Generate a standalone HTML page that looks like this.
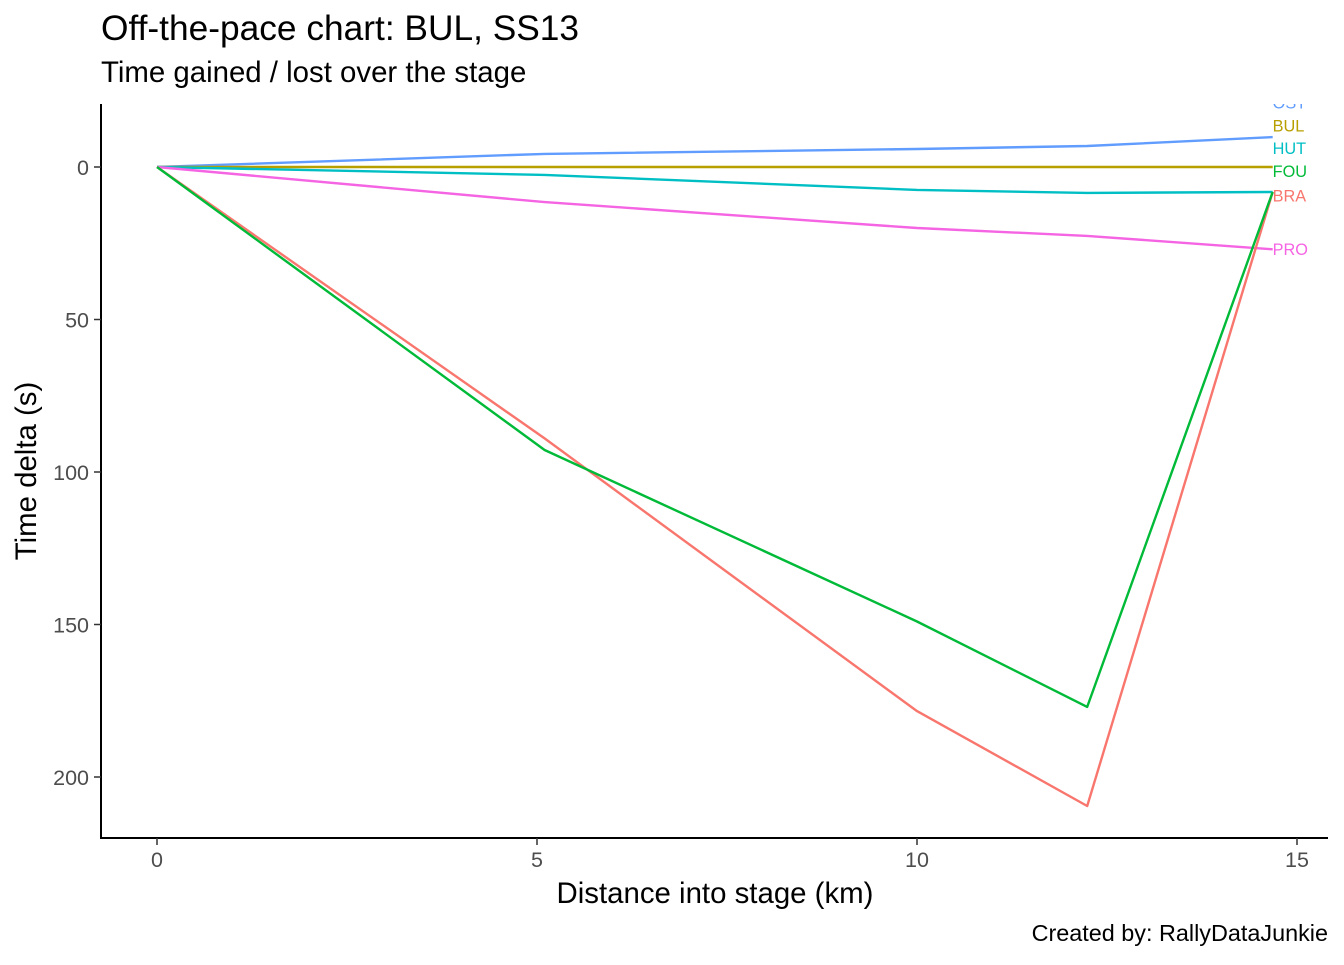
<!DOCTYPE html>
<html><head><meta charset="utf-8"><style>
body{margin:0;background:#fff;font-family:"Liberation Sans",Arial,sans-serif}
svg text{font-family:"Liberation Sans",Arial,sans-serif}
</style></head><body>
<svg id="chart" width="1344" height="960" xmlns="http://www.w3.org/2000/svg">
<rect width="1344" height="960" fill="#fff"/>
<text x="101" y="40" font-size="35.3" fill="#000">Off-the-pace chart: BUL, SS13</text>
<text x="101" y="82" font-size="29.4" fill="#000">Time gained / lost over the stage</text>
<defs><clipPath id="clip"><rect x="101" y="104" width="1243" height="734"/></clipPath></defs>
<g id="plot" clip-path="url(#clip)"></g>
<g id="axes"></g>
<text x="715" y="903" font-size="29.4" text-anchor="middle">Distance into stage (km)</text>
<text transform="translate(36,471) rotate(-90)" font-size="29.4" text-anchor="middle">Time delta (s)</text>
<text x="1328" y="941" font-size="23.4" text-anchor="end">Created by: RallyDataJunkie</text>
</svg>
<script>
const drivers = ["BRA","BUL","FOU","HUT","OST","PRO"];
const colors = ["#F8766D","#B79F00","#00BA38","#00BFC4","#619CFF","#F564E3"];
const distances = [0, 5.1, 10.0, 12.24, 14.68];
const braVals = [0, 89, 178.4, 209.5, 8.2];
const bulVals = [0, 0, 0, 0, 0];
const fouVals = [0, 92.8, 149, 177, 8.2];
const hutVals = [0, 2.6, 7.5, 8.5, 8.2];
const ostVals = [0, -4.3, -5.9, -6.9, -9.8];
const proVals = [0, 11.5, 20, 22.6, 27];
const labelYVals = [9.5, -13.5, 1.5, -6, -21, 27];
const xTicks = [0, 5, 10, 15];
const yTicks = [0, 50, 100, 150, 200];
const series = [braVals, bulVals, fouVals, hutVals, ostVals, proVals];
const X = d => 157 + d * 76;
const Y = v => 167 + v * 3.05;
const NS = "http://www.w3.org/2000/svg";
const plot = document.getElementById("plot"), axes = document.getElementById("axes");
function mk(tag, attrs, parent){const e=document.createElementNS(NS,tag);for(const k in attrs)e.setAttribute(k,attrs[k]);parent.appendChild(e);return e;}
const drawOrder=[4,1,3,5,0,2];
drawOrder.forEach(i=>{
  const pts = distances.map((d,j)=>X(d).toFixed(1)+","+Y(series[i][j]).toFixed(1)).join(" ");
  const pl = mk("polyline",{points:pts,fill:"none",stroke:colors[i],"stroke-width":2.4,"stroke-linejoin":"round"},plot);
  
  
});
drivers.forEach((n,i)=>{
  const t = mk("text",{x:X(distances[distances.length-1]),y:Y(labelYVals[i])+5.5,"font-size":16.3,fill:colors[i]},plot);
  t.textContent=n;
  
  
});
const ya = mk("line",{x1:101,y1:104,x2:101,y2:839,stroke:"#000","stroke-width":2},axes);


const xa = mk("line",{x1:100,y1:838,x2:1328,y2:838,stroke:"#000","stroke-width":2},axes);


xTicks.forEach(v=>{
  mk("line",{x1:X(v),y1:838,x2:X(v),y2:845,stroke:"#333","stroke-width":1.5},axes);
  const t=mk("text",{x:X(v),y:867,"font-size":21.5,fill:"#4d4d4d","text-anchor":"middle"},axes);
  t.textContent=v;
  
  
});
yTicks.forEach(v=>{
  mk("line",{x1:94,y1:Y(v),x2:101,y2:Y(v),stroke:"#333","stroke-width":1.5},axes);
  const t=mk("text",{x:89,y:Y(v)+8,"font-size":21.5,fill:"#4d4d4d","text-anchor":"end"},axes);
  t.textContent=v;
  
  
});
</script>
</body></html>
